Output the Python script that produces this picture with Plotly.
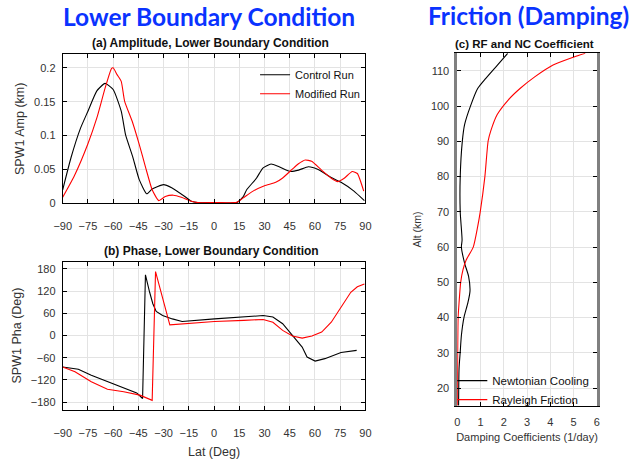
import plotly.graph_objects as go

# Panel (a) amplitude
amp_lat_ctrl = [-90, -85, -79.4, -75, -69.7, -64.8, -60, -55.2, -52.6, -48.4, -44.5, -40, -36.8, -30, -25.2, -17.4, -13.5, -9.7, 0, 13.5, 17.4, 19.4, 25.2, 29, 33.9, 38.7, 45.5, 50.3, 56.1, 61.9, 69.7, 75.5, 83.2, 89.4]
amp_ctrl = [0.020, 0.068, 0.111, 0.136, 0.166, 0.177, 0.168, 0.136, 0.101, 0.069, 0.035, 0.014, 0.021, 0.0276, 0.023, 0.010, 0.003, 0.001, 0.001, 0.001, 0.010, 0.020, 0.037, 0.052, 0.058, 0.054, 0.047, 0.049, 0.054, 0.050, 0.038, 0.031, 0.018, 0.004]
amp_lat_mod = [-90, -83.2, -75, -69.7, -64.8, -61, -60, -57.7, -55.2, -53.2, -48.4, -44.5, -40.6, -36.8, -32.9, -29, -24.2, -19.4, -13.5, -9.7, 0, 13.5, 17.4, 23.2, 30, 36.7, 40.6, 46.4, 50, 54.2, 58, 63.9, 69.7, 73.5, 77.4, 82.2, 85.2, 89]
amp_mod = [0.009, 0.040, 0.088, 0.126, 0.170, 0.199, 0.200, 0.190, 0.180, 0.151, 0.119, 0.087, 0.052, 0.020, 0.004, 0.010, 0.012, 0.009, 0.003, 0.001, 0.001, 0.0015, 0.008, 0.018, 0.026, 0.031, 0.037, 0.050, 0.058, 0.064, 0.062, 0.049, 0.037, 0.032, 0.037, 0.047, 0.044, 0.018]

# Panel (b) phase
pha_lat_ctrl = [-90, -80.7, -73, -59.5, -51.8, -46, -42.5, -40.8, -38.3, -36.4, -34.4, -30.6, -24.8, -19, 0.3, 17.7, 29.2, 35, 40.8, 46.6, 52.4, 55.3, 60.1, 65.9, 75.5, 84.8]
pha_ctrl = [-85, -91, -107, -131.5, -145, -155, -170, 164, 117, 86, 65, 54, 45, 38, 45, 51.6, 54, 50, 32, 0.4, -31, -58, -69, -62.4, -46, -40]
pha_lat_mod = [-90, -82.7, -73, -63.4, -53.7, -44.1, -36.8, -34.8, -26.3, 0.3, 17.7, 29.2, 35, 40.8, 46.6, 52.4, 58.2, 64, 69.7, 75.5, 81.3, 85.2, 89.4]
pha_mod = [-85, -98, -125, -145, -152, -161, -175, 173, 29, 38, 41, 43.5, 36, 14, -1.4, -7, -1.4, 9.4, 36, 77, 117, 132, 139.6]

# Panel (c) damping coefficients
nc_alt = [15, 25.5, 30.2, 34.9, 40, 44.2, 47.5, 51.7, 55.4, 60, 62, 70, 80, 90, 94.8, 100, 105, 107.9, 111.6, 115]
nc_val = [0.06, 0.08, 0.13, 0.18, 0.29, 0.46, 0.55, 0.49, 0.32, 0.18, 0.21, 0.13, 0.13, 0.22, 0.32, 0.57, 0.88, 1.23, 1.72, 2.17]
rf_alt = [15, 40, 44.2, 50, 53.6, 56.4, 60, 65.8, 70, 80, 90.1, 92.9, 97.6, 101.8, 105, 108.3, 111.6, 113.9, 115]
rf_val = [0.01, 0.04, 0.08, 0.15, 0.25, 0.39, 0.69, 0.88, 0.99, 1.19, 1.33, 1.44, 1.72, 2.2, 2.7, 3.33, 4.1, 5.0, 5.5]

lat_ticks = [-90, -75, -60, -45, -30, -15, 0, 15, 30, 45, 60, 75, 90]
amp_ticks = [0, 0.05, 0.1, 0.15, 0.2]
amp_ticklabels = ["0", "0.05", "0.1", "0.15", "0.2"]
pha_ticks = [-180, -120, -60, 0, 60, 120, 180]
alt_ticks = [20, 30, 40, 50, 60, 70, 80, 90, 100, 110]
damp_ticks = [0, 1, 2, 3, 4, 5, 6]

W, H = 637, 459
def xd(a, b):
    return [a / W, b / W]
def yd(top, bot):
    return [1 - bot / H, 1 - top / H]

FONT = "Liberation Sans"
tickfont = dict(family=FONT, size=11, color="#333333")
titlefont = dict(family=FONT, size=12.5, color="#333333")
grid = "#e3e3e3"

fig = go.Figure()
fig.add_trace(go.Scatter(x=amp_lat_ctrl, y=amp_ctrl, mode="lines", name="Control Run",
                         line=dict(color="black", width=1.1, shape="spline", smoothing=0.5),
                         xaxis="x", yaxis="y", legend="legend"))
fig.add_trace(go.Scatter(x=amp_lat_mod, y=amp_mod, mode="lines", name="Modified Run",
                         line=dict(color="red", width=1.1, shape="spline", smoothing=0.5),
                         xaxis="x", yaxis="y", legend="legend"))
fig.add_trace(go.Scatter(x=pha_lat_ctrl, y=pha_ctrl, mode="lines", showlegend=False,
                         line=dict(color="black", width=1.1), xaxis="x2", yaxis="y2"))
fig.add_trace(go.Scatter(x=pha_lat_mod, y=pha_mod, mode="lines", showlegend=False,
                         line=dict(color="red", width=1.1), xaxis="x2", yaxis="y2"))
fig.add_trace(go.Scatter(x=nc_val, y=nc_alt, mode="lines", name="Newtonian Cooling",
                         line=dict(color="black", width=1.1, shape="spline", smoothing=0.6),
                         xaxis="x3", yaxis="y3", legend="legend2"))
fig.add_trace(go.Scatter(x=rf_val, y=rf_alt, mode="lines", name="Rayleigh Friction",
                         line=dict(color="red", width=1.1, shape="spline", smoothing=0.6),
                         xaxis="x3", yaxis="y3", legend="legend2"))

common = dict(showgrid=True, gridcolor=grid, gridwidth=1, showline=True, linecolor="black",
              linewidth=1, mirror="allticks", ticks="inside", ticklen=4, tickcolor="black",
              tickfont=tickfont, zeroline=False)

fig.update_layout(
    width=W, height=H, autosize=False,
    margin=dict(l=0, r=0, t=0, b=0),
    paper_bgcolor="white", plot_bgcolor="white",
    xaxis=dict(domain=xd(55, 365), range=[-90, 90], tickvals=lat_ticks, anchor="y",
               ticklabelstandoff=12, **common),
    yaxis=dict(domain=yd(55, 206), range=[0, 0.22], tickvals=amp_ticks, ticktext=amp_ticklabels,
               anchor="x", ticklabelstandoff=4,
               title=dict(text="SPW1 Amp (km)", font=titlefont, standoff=6), **common),
    xaxis2=dict(domain=xd(55, 365), range=[-90, 90], tickvals=lat_ticks, anchor="y2",
                ticklabelstandoff=13,
                title=dict(text="Lat (Deg)", font=titlefont, standoff=10), **common),
    yaxis2=dict(domain=yd(265, 415), range=[-200, 200], tickvals=pha_ticks, anchor="x2",
                ticklabelstandoff=4,
                title=dict(text="SPW1 Pha (Deg)", font=titlefont, standoff=6), **common),
    xaxis3=dict(domain=xd(459, 602), range=[0, 6], tickvals=damp_ticks, anchor="y3",
                ticklabelstandoff=6,
                title=dict(text="Damping Coefficients (1/day)", font=dict(family=FONT, size=11, color="#333333"), standoff=6),
                **common),
    yaxis3=dict(domain=yd(54, 411), range=[15, 115], tickvals=alt_ticks, anchor="x3",
                ticklabelstandoff=3,
                title=dict(text="Alt (km)", font=dict(family=FONT, size=10.5, color="#333333"), standoff=8),
                showgrid=True, gridcolor=grid, showline=True, linecolor="#808080", linewidth=2.5,
                mirror="allticks", ticks="inside", ticklen=4, tickcolor="black", tickfont=tickfont,
                zeroline=False),
    legend=dict(x=(294 - 42) / W, y=1 - 61 / H, xanchor="left", yanchor="top",
                bgcolor="rgba(0,0,0,0)", font=dict(family=FONT, size=11, color="#111111"),
                tracegroupgap=0, itemwidth=30),
    legend2=dict(x=(496 - 42) / W, y=1 - 371 / H, xanchor="left", yanchor="top",
                 bgcolor="rgba(0,0,0,0)", font=dict(family=FONT, size=11.5, color="#111111"),
                 tracegroupgap=0, itemwidth=30),
    annotations=[
        dict(text="<b>Lower Boundary Condition</b>", x=205 / W, y=1 - 17 / H, xref="paper", yref="paper",
             showarrow=False, font=dict(family="Lato", size=24.5, color="#0a33ff"), xanchor="center", yanchor="middle"),
        dict(text="<b>Friction (Damping)</b>", x=532 / W, y=1 - 16 / H, xref="paper", yref="paper",
             showarrow=False, font=dict(family="Lato", size=24.5, color="#0a33ff"), xanchor="center", yanchor="middle"),
        dict(text="<b>(a) Amplitude, Lower Boundary Condition</b>", x=206.5 / W, y=1 - 44 / H, xref="paper", yref="paper",
             showarrow=False, font=dict(family=FONT, size=12, color="#111111"), xanchor="center", yanchor="middle"),
        dict(text="<b>(b) Phase, Lower Boundary Condition</b>", x=207 / W, y=1 - 254 / H, xref="paper", yref="paper",
             showarrow=False, font=dict(family=FONT, size=12, color="#111111"), xanchor="center", yanchor="middle"),
        dict(text="<b>(c) RF and NC Coefficient</b>", x=528 / W, y=1 - 45 / H, xref="paper", yref="paper",
             showarrow=False, font=dict(family=FONT, size=11.5, color="#111111"), xanchor="center", yanchor="middle"),
    ],
)

fig.write_html("out.html")
